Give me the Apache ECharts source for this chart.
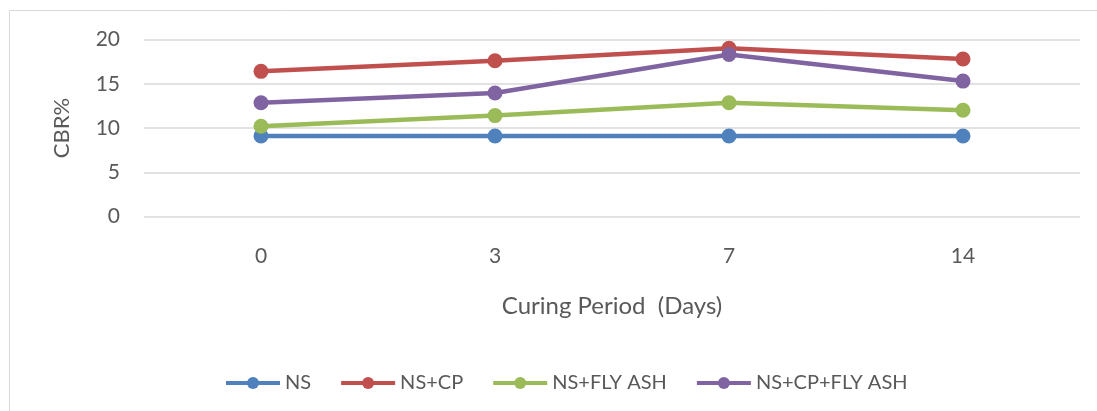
<!DOCTYPE html>
<html>
<head>
<meta charset="utf-8">
<script src="https://cdn.jsdelivr.net/npm/echarts@6/dist/echarts.min.js"></script>
<style>
  html, body { margin: 0; padding: 0; background: #fff; }
  #chart { width: 1097px; height: 411px; }
</style>
</head>
<body>
<div id="chart"></div>
<script>
// curing period categories (days)
var days = ['0', '3', '7', '14'];
var yTicks = [0, 5, 10, 15, 20];

// CBR% values
var ns = [9.1, 9.1, 9.1, 9.1];
var nsCp = [16.4, 17.6, 19.0, 17.8];
var nsFlyAsh = [10.2, 11.4, 12.85, 12.0];
var nsCpFlyAsh = [12.85, 13.95, 18.3, 15.3];

var names = ['NS', 'NS+CP', 'NS+FLY ASH', 'NS+CP+FLY ASH'];
var colors = ['#4F81BD', '#C0504D', '#9BBB59', '#8064A2'];
var allData = [ns, nsCp, nsFlyAsh, nsCpFlyAsh];

var txt = '#595959';
var font = 'Lato, "Open Sans", sans-serif';

var series = [];
for (var i = 0; i < allData.length; i++) {
    series.push({
        name: names[i],
        type: 'line',
        data: allData[i],
        symbol: 'circle',
        symbolSize: 15,
        lineStyle: { width: 4.5, color: colors[i] },
        itemStyle: { color: colors[i] },
        emphasis: { disabled: true }
    });
}

echarts.init(document.querySelector('#chart')).setOption({
    animation: false,
    color: colors,
    graphic: [{
        type: 'rect',
        shape: { x: 9.5, y: 10.5, width: 1200, height: 500 },
        style: { fill: 'none', stroke: '#D9D9D9', lineWidth: 1 }
    }],
    grid: {
        left: 144,
        right: 17,
        top: 39.5,
        bottom: 194.5
    },
    legend: {
        left: 219,
        top: 368,
        itemWidth: 54,
        itemHeight: 15,
        itemGap: 28,
        lineStyle: { width: 4 },
        textStyle: { color: txt, fontSize: 20, fontFamily: font },
        data: names
    },
    xAxis: {
        type: 'category',
        data: days,
        boundaryGap: true,
        axisLine: { show: false },
        axisTick: { show: false },
        axisLabel: { color: txt, fontSize: 21, fontFamily: font, margin: 29 },
        name: 'Curing Period  (Days)',
        nameLocation: 'middle',
        nameGap: 78,
        nameTextStyle: { color: txt, fontSize: 24, fontFamily: font }
    },
    yAxis: {
        type: 'value',
        min: yTicks[0],
        max: yTicks[yTicks.length - 1],
        interval: 5,
        axisLine: { show: false },
        axisTick: { show: false },
        splitLine: { lineStyle: { color: '#D9D9D9', width: 1.5 } },
        axisLabel: { color: txt, fontSize: 21, fontFamily: font, margin: 24 },
        name: 'CBR%',
        nameLocation: 'middle',
        nameRotate: 90,
        nameGap: 71,
        nameTextStyle: { color: txt, fontSize: 22, fontFamily: font }
    },
    series: series
});
</script>
</body>
</html>
